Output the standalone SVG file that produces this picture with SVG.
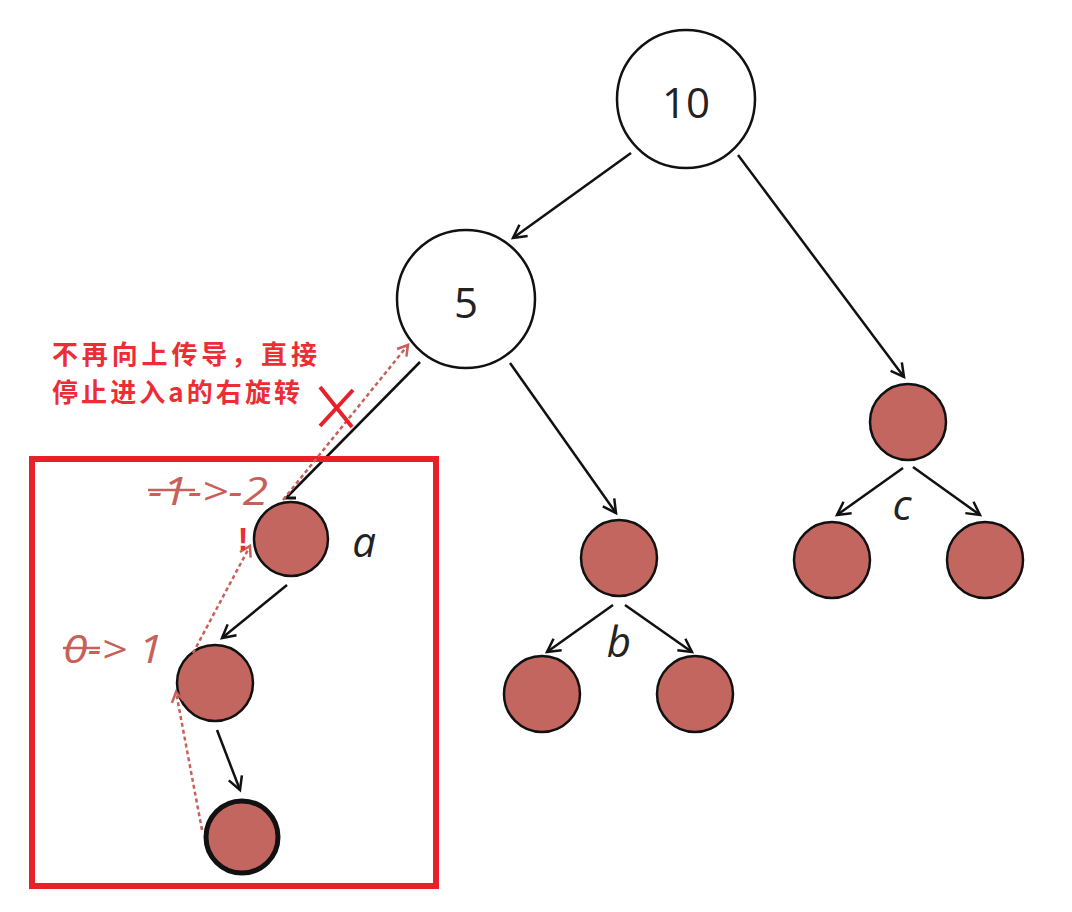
<svg xmlns="http://www.w3.org/2000/svg" width="1072" height="912" viewBox="0 0 1072 912">
<style>
.node{fill:#c3665f;stroke:#111;stroke-width:2.5}
.big{fill:#fff;stroke:#111;stroke-width:2.5}
.num{font-family:"Open Sans","Noto Sans",sans-serif;font-size:42px;fill:#222;text-anchor:middle}
.lbl{font-family:"Open Sans","Noto Sans",sans-serif;font-style:italic;font-size:42px;fill:#222;text-anchor:middle}
.edge{stroke:#111;stroke-width:2.5;fill:none}
.dot{stroke:#c8605a;stroke-width:2.5;stroke-dasharray:4 3;fill:none}
.note{font-family:"Open Sans","Noto Sans",sans-serif;font-style:italic;font-size:38px;fill:#c8605a}
.cn{font-family:"Noto Sans CJK SC",sans-serif;font-size:26px;font-weight:bold;fill:#ec2d35}
</style>
<defs>
<marker id="ah" markerUnits="userSpaceOnUse" markerWidth="20" markerHeight="20" viewBox="-14 -10 16 20" refX="0" refY="0" orient="auto">
<path d="M-13,-7 L0,0 L-13,7" fill="none" stroke="#111" stroke-width="2.5"/>
</marker>
<marker id="rh" markerUnits="userSpaceOnUse" markerWidth="20" markerHeight="20" viewBox="-14 -10 16 20" refX="0" refY="0" orient="auto">
<path d="M-10,-6 L0,0 L-10,6" fill="none" stroke="#c8605a" stroke-width="2.5"/>
</marker>
</defs>
<rect width="1072" height="912" fill="#fff"/>

<g id="connectors">
<line class="edge" x1="631" y1="153" x2="513" y2="238" marker-end="url(#ah)"/>
<line class="edge" x1="738" y1="155" x2="904" y2="377" marker-end="url(#ah)"/>
<line class="edge" x1="420" y1="362" x2="287" y2="497"/>
<line class="edge" x1="284" y1="498" x2="296" y2="498" style="stroke-width:3"/>
<line class="edge" x1="510" y1="363" x2="616" y2="513" marker-end="url(#ah)"/>
<line class="edge" x1="287" y1="585" x2="222" y2="638" marker-end="url(#ah)"/>
<line class="edge" x1="217" y1="730" x2="240" y2="790" marker-end="url(#ah)"/>
<line class="edge" x1="613" y1="605" x2="547" y2="652" marker-end="url(#ah)"/>
<line class="edge" x1="625" y1="605" x2="692" y2="652" marker-end="url(#ah)"/>
<line class="edge" x1="903" y1="468" x2="837" y2="515" marker-end="url(#ah)"/>
<line class="edge" x1="913" y1="467" x2="980" y2="515" marker-end="url(#ah)"/>
</g>

<g id="node-10"><circle class="big" cx="686" cy="99" r="69"/><text class="num" x="686" y="118">10</text></g>
<g id="node-5"><circle class="big" cx="466" cy="299" r="69"/><text class="num" x="466" y="318">5</text></g>
<g id="node-a"><circle class="node" cx="291" cy="539" r="37"/><text class="lbl" x="364" y="557">a</text></g>
<g id="node-a1"><circle class="node" cx="215" cy="683" r="38"/></g>
<g id="node-a2"><circle class="node" cx="242" cy="837" r="36" style="stroke-width:5"/></g>
<g id="node-b"><circle class="node" cx="619" cy="558" r="38"/><text class="lbl" x="619" y="657">b</text></g>
<g id="node-b1"><circle class="node" cx="542" cy="694" r="38"/></g>
<g id="node-b2"><circle class="node" cx="695" cy="694" r="38"/></g>
<g id="node-c"><circle class="node" cx="908" cy="422" r="38"/><text class="lbl" x="902" y="520">c</text></g>
<g id="node-c1"><circle class="node" cx="832" cy="560" r="38"/></g>
<g id="node-c2"><circle class="node" cx="985" cy="560" r="38"/></g>

<g id="annotations">
<rect x="32" y="459" width="404" height="427" fill="none" stroke="#e8202a" stroke-width="6"/>
<line class="dot" x1="283" y1="500" x2="408" y2="345" marker-end="url(#rh)"/>
<line class="dot" x1="193" y1="653" x2="250" y2="546" marker-end="url(#rh)"/>
<line class="dot" x1="202" y1="830" x2="176" y2="692" marker-end="url(#rh)"/>
<text class="cn" x="52" y="364" textLength="265" lengthAdjust="spacing">不再向上传导，直接</text>
<text class="cn" x="52" y="402" textLength="248" lengthAdjust="spacing">停止进入a的右旋转</text>
<line x1="320" y1="387" x2="352" y2="427" stroke="#e8202a" stroke-width="4"/>
<line x1="353" y1="390" x2="320" y2="426" stroke="#e8202a" stroke-width="4"/>
<text class="note" x="148" y="505" textLength="120" lengthAdjust="spacingAndGlyphs">-1-&gt;-2</text>
<line x1="148" y1="490" x2="195" y2="490" stroke="#c8605a" stroke-width="2.5"/>
<text x="243" y="550" font-family="Liberation Sans,sans-serif" font-weight="bold" font-size="32" fill="#ec2d35" text-anchor="middle">!</text>
<text class="note" x="63" y="663" textLength="100" lengthAdjust="spacingAndGlyphs">0-&gt; 1</text>
<line x1="63" y1="648" x2="100" y2="648" stroke="#c8605a" stroke-width="2.5"/>
</g>
</svg>
